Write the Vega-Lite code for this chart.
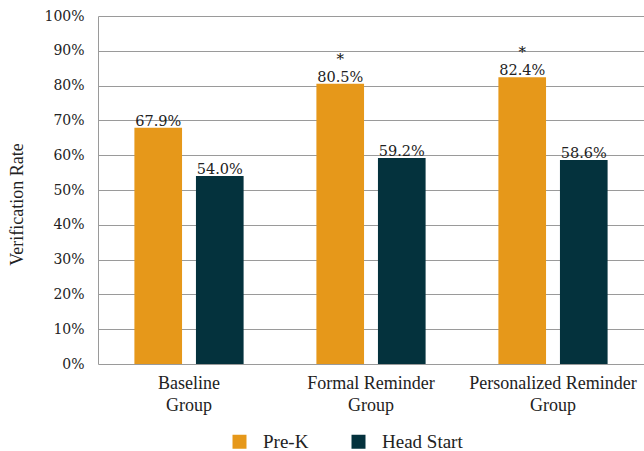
{
  "$schema": "https://vega.github.io/schema/vega-lite/v6.json",
  "width": 546,
  "height": 348,
  "autosize": "none",
  "padding": {"left": 98, "top": 16, "right": 0, "bottom": 87},
  "background": "white",
  "data": {
    "values": [
      {"group": "Baseline Group", "program": "Pre-K", "rate": 0.679, "sig": ""},
      {"group": "Baseline Group", "program": "Head Start", "rate": 0.540, "sig": ""},
      {"group": "Formal Reminder Group", "program": "Pre-K", "rate": 0.805, "sig": "*"},
      {"group": "Formal Reminder Group", "program": "Head Start", "rate": 0.592, "sig": ""},
      {"group": "Personalized Reminder Group", "program": "Pre-K", "rate": 0.824, "sig": "*"},
      {"group": "Personalized Reminder Group", "program": "Head Start", "rate": 0.586, "sig": ""}
    ]
  },
  "encoding": {
    "x": {
      "field": "group", "type": "nominal", "sort": null,
      "scale": {"paddingInner": 0.4, "paddingOuter": 0.2},
      "axis": {
        "title": null, "labelAngle": 0, "ticks": false, "domain": false,
        "labelFont": "Liberation Serif", "labelFontSize": 18, "labelColor": "#222",
        "labelPadding": 10, "labelLineHeight": 22,
        "labelExpr": "[replace(datum.label, ' Group', ''), 'Group']"
      }
    },
    "xOffset": {
      "field": "program", "type": "nominal", "sort": ["Pre-K", "Head Start"],
      "scale": {"paddingInner": 0.226, "paddingOuter": 0}
    },
    "y": {
      "field": "rate", "type": "quantitative",
      "scale": {"domain": [0, 1], "nice": false},
      "axis": {
        "title": "Verification Rate", "format": ".0%", "values": [0,0.1,0.2,0.3,0.4,0.5,0.6,0.7,0.8,0.9,1],
        "labelOverlap": false,
        "ticks": false, "domain": true, "domainColor": "#9a9a9a", "gridColor": "#9a9a9a", "grid": true,
        "labelFont": "DejaVu Serif", "labelFontSize": 14, "labelColor": "#222", "labelPadding": 14,
        "titleFont": "Liberation Serif", "titleFontSize": 18, "titleFontWeight": "normal", "titleColor": "#222",
        "titleX": -72, "titleY": 188
      }
    }
  },
  "layer": [
    {
      "mark": {"type": "bar"},
      "encoding": {
        "color": {
          "field": "program", "type": "nominal", "sort": ["Pre-K", "Head Start"],
          "scale": {"domain": ["Pre-K", "Head Start"], "range": ["#E6981A", "#04323D"]},
          "legend": {
            "title": null, "orient": "none", "direction": "horizontal",
            "legendX": 132, "legendY": 416,
            "symbolType": "square", "symbolSize": 196, "symbolStrokeWidth": 0, "symbolOpacity": 1,
            "labelFont": "Liberation Serif", "labelFontSize": 19, "labelColor": "#222",
            "labelOffset": 14, "columnPadding": 40
          }
        }
      }
    },
    {
      "mark": {"type": "text", "baseline": "alphabetic", "dy": -2, "font": "DejaVu Serif", "fontSize": 14.5, "color": "#222"},
      "encoding": {"text": {"field": "rate", "type": "quantitative", "format": ".1%"}}
    },
    {
      "mark": {"type": "text", "baseline": "alphabetic", "dy": -20, "font": "DejaVu Serif", "fontSize": 15, "color": "#111"},
      "encoding": {"text": {"field": "sig"}}
    }
  ],
  "config": {"view": {"stroke": null}}
}
